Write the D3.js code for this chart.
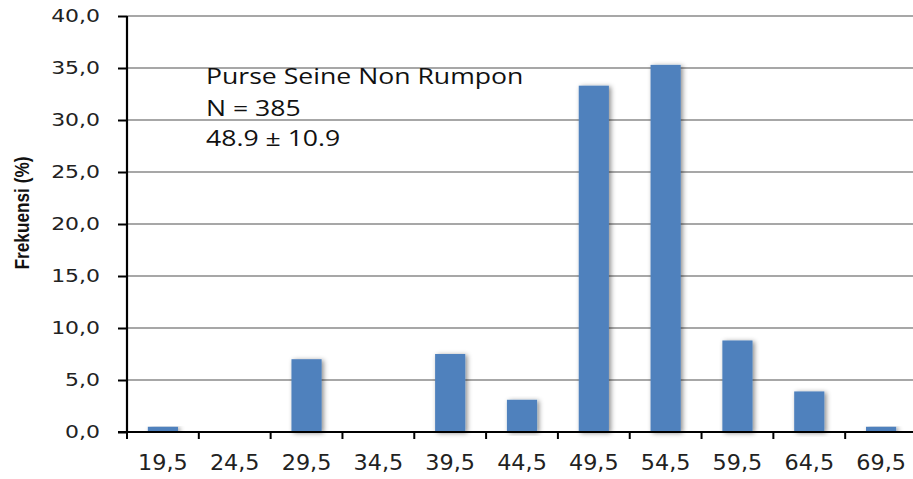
<!DOCTYPE html>
<html>
<head>
<meta charset="utf-8">
<script src="https://cdn.jsdelivr.net/npm/d3@7"></script>
<style>
  body { margin: 0; background: #fff; }
  svg { display: block; overflow: hidden; }
</style>
</head>
<body>
<div id="my_dataviz"></div>
<script>
// data
var classes = ["19,5", "24,5", "29,5", "34,5", "39,5", "44,5", "49,5", "54,5", "59,5", "64,5", "69,5"];
var frekuensi = [0.5, 0, 7.0, 0, 7.5, 3.1, 33.3, 35.3, 8.8, 3.9, 0.5];
var yTicks = [0, 5, 10, 15, 20, 25, 30, 35, 40];
var noteLines = ["Purse Seine Non Rumpon", "N = 385", "48.9 \u00b1 10.9"];

var W = 913, H = 479;
var plot = { left: 127, right: 917, top: 16, bottom: 432 };

var svg = d3.select("#my_dataviz")
    .append("svg")
    .attr("width", W)
    .attr("height", H);

// shadow behind the bars
var defs = svg.append("defs");
var f = defs.append("filter").attr("id", "shadow")
    .attr("x", "-30%").attr("y", "-10%").attr("width", "170%").attr("height", "120%");
f.append("feDropShadow")
    .attr("dx", 2).attr("dy", 1)
    .attr("stdDeviation", 2.5)
    .attr("flood-color", "#000")
    .attr("flood-opacity", 0.45);

var x = d3.scaleBand()
    .domain(classes)
    .range([plot.left, plot.right])
    .paddingInner(0.58)
    .paddingOuter(0.29);

var y = d3.scaleLinear()
    .domain([0, 40])
    .range([plot.bottom, plot.top]);

// gridlines
svg.append("g")
    .selectAll("line")
    .data(yTicks.filter(function (d) { return d > 0; }))
    .enter()
    .append("line")
    .attr("x1", plot.left).attr("x2", W)
    .attr("y1", function (d) { return y(d); })
    .attr("y2", function (d) { return y(d); })
    .style("stroke", "#8a8a8a")
    .style("stroke-width", 1.6);

// bars
svg.append("g")
    .selectAll("rect")
    .data(frekuensi)
    .enter()
    .append("rect")
    .attr("x", function (d, i) { return x(classes[i]); })
    .attr("width", x.bandwidth())
    .attr("y", function (d) { return y(d); })
    .attr("height", function (d) { return y(0) - y(d); })
    .style("fill", "#4f81bd")
    .style("filter", function (d) { return d > 0 ? "url(#shadow)" : null; });

// Y axis
var yAxis = svg.append("g")
    .attr("transform", "translate(" + plot.left + ",0)")
    .call(d3.axisLeft(y)
        .tickValues(yTicks)
        .tickSize(9)
        .tickPadding(18)
        .tickFormat(function (d) { return d3.format(".1f")(d).replace(".", ","); }));
yAxis.select(".domain").remove();
yAxis.selectAll(".tick line").style("stroke", "#000").style("stroke-width", 2);
yAxis.selectAll(".tick text")
    .style("font-family", "DejaVu Sans, Verdana, sans-serif")
    .style("font-size", "18px")
    .style("fill", "#222")
    .attr("x", null)
    .attr("transform", "translate(-27,0) scale(1.22,1)");

// X axis (labels centred on bars, ticks on class boundaries)
var xAxis = svg.append("g")
    .attr("transform", "translate(0," + plot.bottom + ")")
    .call(d3.axisBottom(x).tickSize(0).tickPadding(0));
xAxis.select(".domain").remove();
xAxis.selectAll(".tick text")
    .style("font-family", "DejaVu Sans, Verdana, sans-serif")
    .style("font-size", "18px")
    .style("fill", "#222")
    .attr("y", null).attr("dy", null)
    .attr("transform", "translate(0,37.5) scale(1.24,1.15)");

svg.append("g")
    .selectAll("line")
    .data(d3.range(classes.length + 1))
    .enter()
    .append("line")
    .attr("x1", function (i) { return plot.left + i * x.step(); })
    .attr("x2", function (i) { return plot.left + i * x.step(); })
    .attr("y1", plot.bottom)
    .attr("y2", plot.bottom + 7)
    .style("stroke", "#000")
    .style("stroke-width", 2);

// axis lines
svg.append("line")
    .attr("x1", plot.left).attr("x2", plot.left)
    .attr("y1", plot.top).attr("y2", plot.bottom + 1)
    .style("stroke", "#000").style("stroke-width", 2.2);
svg.append("line")
    .attr("x1", plot.left - 9).attr("x2", W)
    .attr("y1", plot.bottom).attr("y2", plot.bottom)
    .style("stroke", "#000").style("stroke-width", 2.2);

// Y title
svg.append("text")
    .attr("transform", "translate(29,213) rotate(-90)")
    .attr("text-anchor", "middle")
    .attr("textLength", 113)
    .attr("lengthAdjust", "spacingAndGlyphs")
    .style("font-family", "Liberation Sans Narrow, Liberation Sans, Arial, sans-serif")
    .style("font-weight", "bold")
    .style("font-size", "20px")
    .style("fill", "#111")
    .text("Frekuensi (%)");

// note text
svg.append("g")
    .selectAll("text")
    .data(noteLines)
    .enter()
    .append("text")
    .attr("transform", function (d, i) { return "translate(206," + [84, 115.5, 145.5][i] + ") scale(1.21,1)"; })
    .style("font-family", "Open Sans, Liberation Sans, sans-serif")
    .style("font-size", "22px")
    .style("fill", "#111")
    .text(function (d) { return d; });
</script>
</body>
</html>
